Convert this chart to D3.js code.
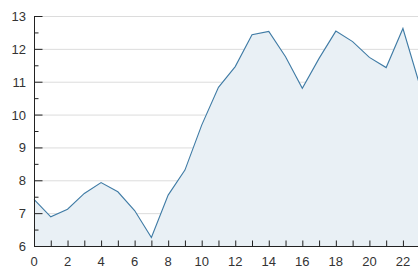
<!DOCTYPE html>
<html><head><meta charset="utf-8">
<script src="https://cdn.jsdelivr.net/npm/d3@7"></script>
<style>body{margin:0;background:#fff}svg{display:block}</style>
</head><body>
<script>
const hours = d3.range(0, 24);
const values = [7.42, 6.89, 7.12, 7.6, 7.93, 7.65, 7.08, 6.26, 7.55, 8.31, 9.68, 10.83, 11.46, 12.43, 12.53, 11.76, 10.8, 11.71, 12.54, 12.22, 11.74, 11.43, 12.62, 10.9];
const yTicks = [6, 7, 8, 9, 10, 11, 12, 13];
const xTickLabels = [0, 2, 4, 6, 8, 10, 12, 14, 16, 18, 20, 22];

const W = 418, H = 269;
const svg = d3.select("body").append("svg").attr("width", W).attr("height", H);
const x = d3.scaleLinear().domain([0, 23]).range([34, 419.7]);
const y = d3.scaleLinear().domain([6, 13]).range([246, 16]);
const data = hours.map((h, i) => ({h, v: values[i]}));

// gridlines
svg.append("g").selectAll("line").data(yTicks.filter(t => t > 6)).join("line")
  .attr("x1", 34).attr("x2", W).attr("y1", d => y(d) + 0.5).attr("y2", d => y(d) + 0.5)
  .attr("stroke", "#dcdcdc").attr("stroke-width", 1);

// area
svg.append("path").datum(data)
  .attr("d", d3.area().x(d => x(d.h)).y0(y(6)).y1(d => y(d.v)))
  .attr("fill", "#e9f0f5");
svg.append("path").datum(data)
  .attr("d", d3.line().x(d => x(d.h)).y(d => y(d.v)))
  .attr("fill", "none").attr("stroke", "#3f7ba5").attr("stroke-width", 1.1);

// y axis
const yAxis = d3.axisRight(y).tickValues(yTicks).tickSize(8).tickFormat("");
const gy = svg.append("g").attr("transform", "translate(34.5,0)").call(yAxis);
gy.select(".domain").remove();
gy.selectAll(".tick line").attr("stroke", "#222");
const yMinor = d3.axisRight(y).tickValues(d3.range(6.5, 13, 1)).tickSize(4).tickFormat("");
const gym = svg.append("g").attr("transform", "translate(34.5,0)").call(yMinor);
gym.select(".domain").remove();
gym.selectAll(".tick line").attr("stroke", "#222");
svg.append("line").attr("x1", 34.5).attr("x2", 34.5).attr("y1", 16).attr("y2", 246.5).attr("stroke", "#222");
svg.append("g").selectAll("text").data(yTicks).join("text")
  .attr("x", 26).attr("y", d => y(d) + 5).attr("text-anchor", "end")
  .attr("font-family", "Liberation Sans, Arial, sans-serif").attr("font-size", 13).attr("fill", "#333")
  .text(d => d);

// x axis
const xAxis = d3.axisTop(x).tickValues(hours).tickSize(6).tickFormat("");
const gx = svg.append("g").attr("transform", "translate(0,246.5)").call(xAxis);
gx.select(".domain").remove();
gx.selectAll(".tick line").attr("stroke", "#222");
svg.append("line").attr("x1", 34).attr("x2", W).attr("y1", 246.5).attr("y2", 246.5).attr("stroke", "#222");
svg.append("g").selectAll("text").data(xTickLabels).join("text")
  .attr("x", d => x(d)).attr("y", 265.5).attr("text-anchor", "middle")
  .attr("font-family", "Liberation Sans, Arial, sans-serif").attr("font-size", 13).attr("fill", "#333")
  .text(d => d);
</script>
</body></html>
